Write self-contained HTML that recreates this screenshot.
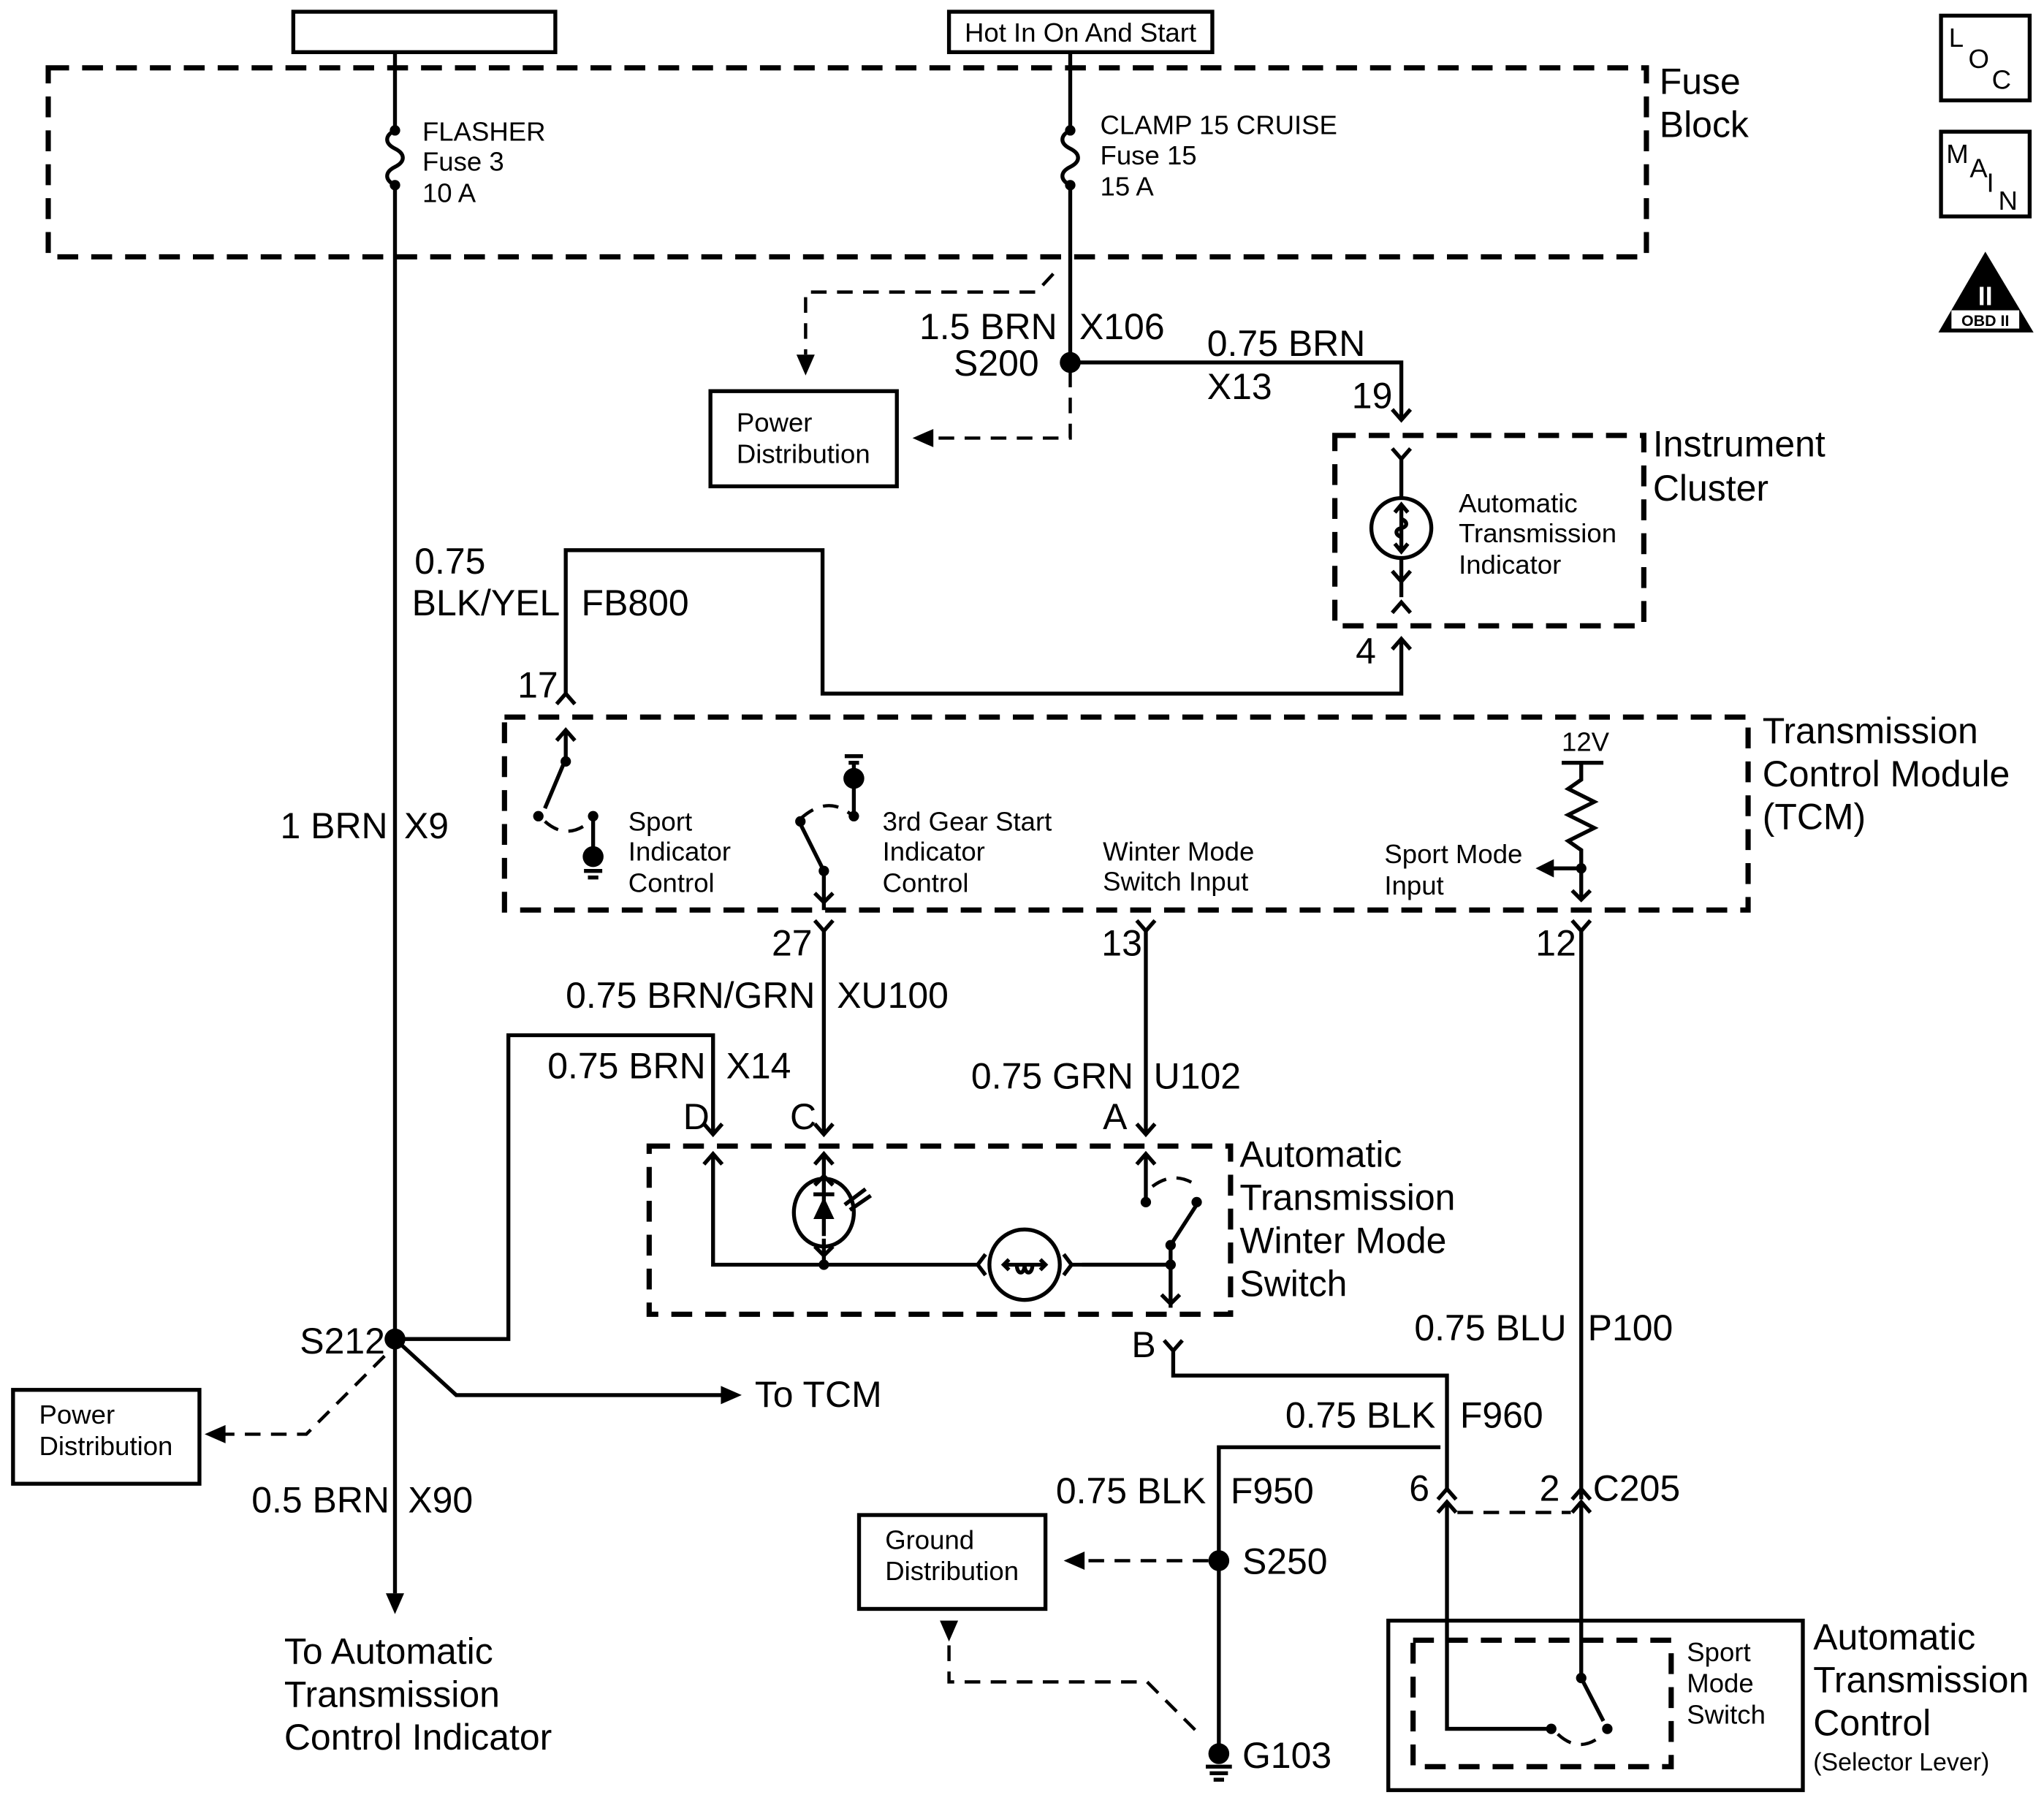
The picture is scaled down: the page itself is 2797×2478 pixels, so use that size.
<!DOCTYPE html>
<html><head><meta charset="utf-8"><style>
html,body{margin:0;padding:0;background:#fff}
svg{display:block}
text{font-family:"Liberation Sans",Arial,sans-serif;fill:#000}
.t{font-size:20.5px}.b{font-size:28px}
.w{stroke:#000;stroke-width:3;fill:none}
.d{stroke:#000;stroke-width:4;fill:none;stroke-dasharray:16 10}
.dl{stroke:#000;stroke-width:2.5;fill:none;stroke-dasharray:12 8}
.bx{stroke:#000;stroke-width:3;fill:#fff}
</style></head><body>
<svg width="2797" height="2478" viewBox="0 0 1568 1389" preserveAspectRatio="none" xmlns="http://www.w3.org/2000/svg">
<rect width="1568" height="1389" fill="#fff"/>
<rect x="225" y="9" width="201" height="31" class="bx"/>
<rect x="728" y="9" width="202" height="31" class="bx"/>
<text x="740" y="32" class="t">Hot In On And Start</text>
<rect x="37" y="52" width="1226" height="145" class="d"/>
<text x="1273" y="72" class="b">Fuse</text><text x="1273" y="105" class="b">Block</text>
<path class="w" d="M303 40V100M303 142V1222"/>
<path class="w" d="M303 100c-8 4-8 10 0 14s8 10 0 14 -8 10 0 14"/>
<circle cx="303" cy="100" r="4"/><circle cx="303" cy="142" r="4"/>
<polygon points="296,1222 310,1222 303,1238"/>
<text x="324" y="108" class="t">FLASHER</text><text x="324" y="131" class="t">Fuse 3</text><text x="324" y="155" class="t">10 A</text>
<path class="w" d="M821 40V100M821 142V278"/>
<path class="w" d="M821 100c-8 4-8 10 0 14s8 10 0 14 -8 10 0 14"/>
<circle cx="821" cy="100" r="4"/><circle cx="821" cy="142" r="4"/>
<text x="844" y="103" class="t">CLAMP 15 CRUISE</text><text x="844" y="126" class="t">Fuse 15</text><text x="844" y="150" class="t">15 A</text>
<path class="dl" d="M821 285V336H712"/><polygon points="700,336 716,329 716,343"/>
<path class="dl" d="M808 210L795 224H618V272"/><polygon points="611,272 625,272 618,288"/>
<rect x="545" y="300" width="143" height="73" class="bx"/>
<text x="565" y="331" class="t">Power</text><text x="565" y="355" class="t">Distribution</text>
<text x="811" y="260" class="b" text-anchor="end">1.5 BRN</text><text x="828" y="260" class="b">X106</text>
<text x="797" y="288" class="b" text-anchor="end">S200</text>
<circle cx="821" cy="278" r="8"/>
<path class="w" d="M821 278H1075V322"/>
<polyline class="w" points="1068,314 1075,322 1082,314"/>
<text x="926" y="273" class="b">0.75 BRN</text><text x="926" y="306" class="b">X13</text><text x="1037" y="313" class="b">19</text>
<rect x="1024" y="334" width="237" height="146" class="d"/>
<text x="1268" y="350" class="b">Instrument</text><text x="1268" y="384" class="b">Cluster</text>
<polyline class="w" points="1068,344 1075,352 1082,344"/>
<path class="w" d="M1075 352V382M1075 428V458"/>
<circle cx="1075" cy="405" r="23" class="w"/>
<path class="w" d="M1075 388V422M1070 393l5-6 5 6M1070 417l5 6 5-6M1075 398c5 2 5 6 0 7s-5 5 0 7"/>
<polyline class="w" points="1068,438 1075,446 1082,438"/>
<polyline class="w" points="1068,470 1075,462 1082,470"/>
<text x="1119" y="393" class="t">Automatic</text><text x="1119" y="416" class="t">Transmission</text><text x="1119" y="440" class="t">Indicator</text>
<polyline class="w" points="1068,498 1075,490 1082,498"/>
<path class="w" d="M1075 490V532H631V422H434V532"/>
<text x="1040" y="509" class="b">4</text>
<polyline class="w" points="427,540 434,532 441,540"/>
<text x="318" y="440" class="b">0.75</text><text x="316" y="472" class="b">BLK/YEL</text><text x="446" y="472" class="b">FB800</text>
<text x="397" y="535" class="b">17</text>
<rect x="387" y="550" width="954" height="148" class="d"/>
<text x="1352" y="570" class="b">Transmission</text><text x="1352" y="603" class="b">Control Module</text><text x="1352" y="636" class="b">(TCM)</text>
<polyline class="w" points="427,568 434,560 441,568"/>
<path class="w" d="M434 560V582L418 620"/><circle cx="434" cy="584" r="4"/><circle cx="413" cy="626" r="4"/>
<path class="dl" d="M418 630Q436 646 455 628"/>
<path class="w" d="M455 626V657M448 668H462M451 673H459"/><circle cx="455" cy="626" r="4"/><circle cx="455" cy="657" r="8"/>
<text x="482" y="637" class="t">Sport</text><text x="482" y="660" class="t">Indicator</text><text x="482" y="684" class="t">Control</text>
<path class="w" d="M648 580H662M651 585H659M655 585V597M655 597V628"/><circle cx="655" cy="597" r="8"/><circle cx="655" cy="626" r="4"/>
<path class="dl" d="M614 628Q634 610 652 624"/>
<circle cx="614" cy="630" r="4"/><path class="w" d="M614 632L632 668V698"/><circle cx="632" cy="668" r="4"/>
<polyline class="w" points="625,685 632,692 639,685"/>
<text x="677" y="637" class="t">3rd Gear Start</text><text x="677" y="660" class="t">Indicator</text><text x="677" y="684" class="t">Control</text>
<text x="846" y="660" class="t">Winter Mode</text><text x="846" y="683" class="t">Switch Input</text>
<text x="1198" y="576" class="t">12V</text>
<path class="w" d="M1198 585H1230M1213 585V598L1203 605 1223 615 1203 625 1223 635 1203 645 1213 652V690M1213 666H1190"/>
<circle cx="1213" cy="666" r="4"/><polygon points="1178,666 1192,659 1192,673"/>
<polyline class="w" points="1206,683 1213,690 1220,683"/>
<text x="1062" y="662" class="t">Sport Mode</text><text x="1062" y="686" class="t">Input</text>
<polyline class="w" points="625,706 632,714 639,706"/>
<polyline class="w" points="872,706 879,714 886,706"/>
<polyline class="w" points="1206,706 1213,714 1220,706"/>
<path class="w" d="M632 714V870M879 714V870M1213 714V1150"/>
<text x="592" y="733" class="b">27</text><text x="845" y="733" class="b">13</text><text x="1178" y="733" class="b">12</text>
<text x="434" y="773" class="b">0.75 BRN/GRN</text><text x="642" y="773" class="b">XU100</text>
<text x="420" y="827" class="b">0.75 BRN</text><text x="557" y="827" class="b">X14</text>
<text x="745" y="835" class="b">0.75 GRN</text><text x="885" y="835" class="b">U102</text>
<path class="w" d="M303 1027H390V794H547V870"/>
<polyline class="w" points="540,862 547,870 554,862"/>
<polyline class="w" points="625,862 632,870 639,862"/>
<polyline class="w" points="872,862 879,870 886,862"/>
<text x="524" y="866" class="b">D</text><text x="606" y="866" class="b">C</text><text x="846" y="866" class="b">A</text>
<rect x="498" y="879" width="446" height="129" class="d"/>
<text x="951" y="895" class="b">Automatic</text><text x="951" y="928" class="b">Transmission</text><text x="951" y="961" class="b">Winter Mode</text><text x="951" y="994" class="b">Switch</text>
<polyline class="w" points="540,893 547,885 554,893"/>
<path class="w" d="M547 885V970H898"/>
<polyline class="w" points="625,893 632,885 639,893"/>
<polyline class="w" points="625,909 632,902 639,909"/>
<path class="w" d="M632 885V910M632 950V970"/>
<ellipse cx="632" cy="930" rx="23" ry="26" class="w" stroke-width="2"/>
<path class="w" d="M632 910V948M624 916H640"/><polygon points="624,935 640,935 632,918"/>
<path class="w" stroke-width="2" d="M648 924L664 912M652 928L668 917"/>
<polyline class="w" points="625,956 632,963 639,956"/>
<circle cx="632" cy="970" r="4"/>
<rect x="750" y="960" width="80" height="20" fill="#fff"/>
<ellipse cx="786" cy="970" rx="27" ry="27" class="w" stroke-width="2"/>
<path class="w" stroke-width="2" d="M770 970H802M774 966l-4 4 4 4M798 966l4 4-4 4M780 970c0 8 6 8 6 0c0 8 6 8 6 0"/>
<polyline class="w" points="756,962 750,970 756,978"/>
<polyline class="w" points="816,962 822,970 816,978"/>
<path class="w" d="M822 970H898"/>
<polyline class="w" points="872,893 879,885 886,893"/>
<path class="w" d="M879 885V922"/><circle cx="879" cy="922" r="4"/>
<path class="dl" d="M884 910Q900 898 916 908"/><circle cx="918" cy="922" r="4"/>
<path class="w" d="M918 924L898 955V1003"/><circle cx="898" cy="955" r="4"/><circle cx="898" cy="970" r="4"/>
<polyline class="w" points="891,993 898,1000 905,993"/>
<polyline class="w" points="893,1028 900,1036 907,1028"/>
<path class="w" d="M900 1036V1055H1110V1143"/>
<text x="868" y="1041" class="b">B</text>
<text x="986" y="1095" class="b">0.75 BLK</text><text x="1120" y="1095" class="b">F960</text>
<text x="1085" y="1028" class="b">0.75 BLU</text><text x="1218" y="1028" class="b">P100</text>
<path class="w" d="M935 1197V1110H1105"/>
<polyline class="w" points="1103,1150 1110,1142 1117,1150"/>
<polyline class="w" points="1103,1160 1110,1152 1117,1160"/>
<polyline class="w" points="1206,1150 1213,1142 1220,1150"/>
<polyline class="w" points="1206,1160 1213,1152 1220,1160"/>
<path class="dl" d="M1118 1160H1205"/>
<text x="1081" y="1151" class="b">6</text><text x="1181" y="1151" class="b">2</text><text x="1222" y="1151" class="b">C205</text>
<rect x="1065" y="1243" width="318" height="130" style="fill:none;stroke:#000;stroke-width:3"/>
<rect x="1084" y="1258" width="198" height="97" class="d"/>
<path class="w" d="M1110 1152V1326H1190M1213 1152V1287"/>
<circle cx="1190" cy="1326" r="4"/><circle cx="1213" cy="1287" r="4"/><circle cx="1233" cy="1326" r="4"/>
<path class="w" d="M1213 1287L1230 1320"/>
<path class="dl" d="M1195 1330Q1212 1346 1230 1330"/>
<text x="1294" y="1274" class="t">Sport</text><text x="1294" y="1298" class="t">Mode</text><text x="1294" y="1322" class="t">Switch</text>
<text x="1391" y="1265" class="b">Automatic</text><text x="1391" y="1298" class="b">Transmission</text><text x="1391" y="1331" class="b">Control</text>
<text x="1391" y="1358" style="font-size:19px">(Selector Lever)</text>
<text x="810" y="1153" class="b">0.75 BLK</text><text x="944" y="1153" class="b">F950</text>
<circle cx="935" cy="1197" r="8"/><path class="w" d="M935 1197V1345"/>
<text x="953" y="1207" class="b">S250</text>
<path class="dl" d="M927 1197H832"/><polygon points="816,1197 832,1190 832,1204"/>
<rect x="659" y="1162" width="143" height="72" class="bx"/>
<text x="679" y="1188" class="t">Ground</text><text x="679" y="1212" class="t">Distribution</text>
<polygon points="721,1243 735,1243 728,1259"/>
<path class="dl" d="M728 1262V1290H880L920 1330"/>
<circle cx="935" cy="1345" r="8"/>
<path class="w" stroke-width="2" d="M925 1355H945M928 1360H942M931 1365H939"/>
<text x="953" y="1356" class="b">G103</text>
<circle cx="303" cy="1027" r="8"/>
<text x="230" y="1038" class="b">S212</text>
<path class="w" d="M303 1027L350 1070H555"/><polygon points="569,1070 553,1063 553,1077"/>
<text x="579" y="1079" class="b">To TCM</text>
<path class="dl" d="M295 1040L235 1100H172"/><polygon points="157,1100 173,1093 173,1107"/>
<rect x="10" y="1066" width="143" height="72" class="bx"/>
<text x="30" y="1092" class="t">Power</text><text x="30" y="1116" class="t">Distribution</text>
<text x="193" y="1160" class="b">0.5 BRN</text><text x="313" y="1160" class="b">X90</text>
<text x="218" y="1276" class="b">To Automatic</text><text x="218" y="1309" class="b">Transmission</text><text x="218" y="1342" class="b">Control Indicator</text>
<text x="215" y="643" class="b">1 BRN</text><text x="310" y="643" class="b">X9</text>
<rect x="1489" y="12" width="68" height="65" class="bx"/>
<text x="1495" y="36" class="t">L</text><text x="1510" y="52" class="t">O</text><text x="1528" y="68" class="t">C</text>
<rect x="1489" y="101" width="68" height="65" class="bx"/>
<text x="1493" y="125" class="t">M</text><text x="1511" y="136" class="t">A</text><text x="1524" y="147" class="t">I</text><text x="1533" y="161" class="t">N</text>
<polygon points="1523,193 1560,255 1487,255"/>
<text x="1523" y="234" text-anchor="middle" style="font-size:20px;font-weight:bold;fill:#fff">II</text>
<rect x="1497" y="238" width="52" height="14" fill="#fff"/>
<text x="1523" y="250" text-anchor="middle" style="font-size:12px;font-weight:bold">OBD II</text>
</svg>
</body></html>
